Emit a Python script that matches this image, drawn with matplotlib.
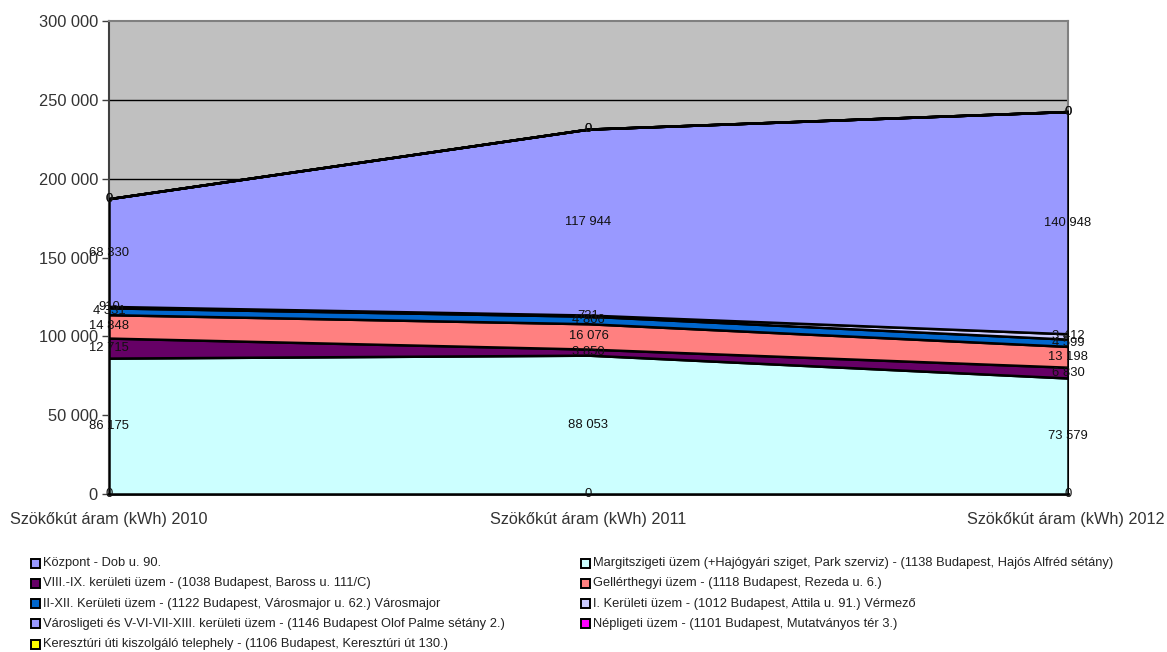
import matplotlib
matplotlib.use("Agg")
import matplotlib.pyplot as plt
import matplotlib.transforms as mtransforms
from matplotlib.patches import Rectangle
import numpy as np

plt.rcParams['font.family'] = ['Liberation Sans', 'DejaVu Sans']

categories = ["Szökőkút áram (kWh) 2010", "Szökőkút áram (kWh) 2011", "Szökőkút áram (kWh) 2012"]

# stack order bottom -> top
stack_names = [
    "Keresztúri úti kiszolgáló telephely - (1106 Budapest, Keresztúri út 130.)",
    "Margitszigeti üzem (+Hajógyári sziget, Park szerviz) - (1138 Budapest, Hajós Alfréd sétány)",
    "VIII.-IX. kerületi üzem - (1038 Budapest, Baross u. 111/C)",
    "Gellérthegyi üzem - (1118 Budapest, Rezeda u. 6.)",
    "II-XII. Kerületi üzem - (1122 Budapest, Városmajor u. 62.) Városmajor",
    "I. Kerületi üzem - (1012 Budapest, Attila u. 91.) Vérmező",
    "Központ - Dob u. 90.",
    "Városligeti és V-VI-VII-XIII. kerületi üzem - (1146 Budapest Olof Palme sétány 2.)",
    "Népligeti üzem - (1101 Budapest, Mutatványos tér 3.)",
]
keresztur = [0, 0, 0]
margit = [86175, 88053, 73579]
viii_ix = [12715, 3850, 6830]
gellert = [14848, 16076, 13198]
ii_xii = [4331, 4806, 4599]
i_ker = [910, 721, 3412]
kozpont = [68330, 117944, 140948]
varosliget = [0, 0, 0]
nepliget = [0, 0, 0]
stack_values = [keresztur, margit, viii_ix, gellert, ii_xii, i_ker, kozpont, varosliget, nepliget]
stack_colors = ["#FFFF00", "#CCFFFF", "#660066", "#FF8080", "#0066CC", "#CCCCFF", "#9999FF", "#9999FF", "#FF00FF"]

legend_order = [
    "Központ - Dob u. 90.",
    "Margitszigeti üzem (+Hajógyári sziget, Park szerviz) - (1138 Budapest, Hajós Alfréd sétány)",
    "VIII.-IX. kerületi üzem - (1038 Budapest, Baross u. 111/C)",
    "Gellérthegyi üzem - (1118 Budapest, Rezeda u. 6.)",
    "II-XII. Kerületi üzem - (1122 Budapest, Városmajor u. 62.) Városmajor",
    "I. Kerületi üzem - (1012 Budapest, Attila u. 91.) Vérmező",
    "Városligeti és V-VI-VII-XIII. kerületi üzem - (1146 Budapest Olof Palme sétány 2.)",
    "Népligeti üzem - (1101 Budapest, Mutatványos tér 3.)",
    "Keresztúri úti kiszolgáló telephely - (1106 Budapest, Keresztúri út 130.)",
]

yticks = [0, 50000, 100000, 150000, 200000, 250000, 300000]


def fmt(v):
    return f"{int(v):,}".replace(",", " ")


W, H = 1167, 652
fig = plt.figure(figsize=(W / 100, H / 100), dpi=100)
ax = fig.add_axes([109 / W, 1 - 494 / H, (1068 - 109) / W, (494 - 21) / H])
ax.set_facecolor("#C0C0C0")

x = np.arange(len(categories))
ax.stackplot(x, *stack_values, colors=stack_colors, edgecolor="black", linewidth=1.8, zorder=3)

ax.set_xlim(0, 2)
ax.set_ylim(0, 300000)
ax.set_yticks(yticks)
ax.set_yticklabels([fmt(v) for v in yticks], fontsize=11.8, color="#333333")
for yv in yticks[1:-1]:
    ax.axhline(yv, color="black", linewidth=1.0, zorder=1)
ax.set_xticks(x)
ax.set_xticklabels(categories, fontsize=11.7, color="#333333")
ax.tick_params(axis="x", length=0, pad=13)
ax.tick_params(axis="y", length=5, width=1, color="#404040", pad=3)
labs = ax.get_xticklabels()
labs[0].set_horizontalalignment("left")
labs[-1].set_horizontalalignment("right")
labs[0].set_transform(labs[0].get_transform() + mtransforms.ScaledTranslation(-99 / 100, 0, fig.dpi_scale_trans))
labs[-1].set_transform(labs[-1].get_transform() + mtransforms.ScaledTranslation(97 / 100, 0, fig.dpi_scale_trans))

for side in ["top", "right"]:
    ax.spines[side].set_color("#808080")
    ax.spines[side].set_linewidth(1.5)
ax.spines["left"].set_color("#404040")
ax.spines["left"].set_linewidth(1.5)
ax.spines["bottom"].set_color("black")
ax.spines["bottom"].set_linewidth(2)

# data labels
cum = np.zeros(len(categories))
for vals in stack_values:
    v = np.array(vals, dtype=float)
    for i in range(len(categories)):
        ax.text(x[i], cum[i] + v[i] / 2, fmt(v[i]), ha="center", va="center",
                fontsize=9.4, color="#111111", zorder=5, clip_on=False)
    cum += v

# legend (manual, two columns, row-major)
for k, name in enumerate(legend_order):
    col, row = k % 2, k // 2
    xp = 31 if col == 0 else 581
    yp = 563 + row * 20.3
    color = stack_colors[stack_names.index(name)]
    fig.patches.append(Rectangle((xp / W, 1 - (yp + 4.5) / H), 9 / W, 9 / H,
                                 transform=fig.transFigure, facecolor=color,
                                 edgecolor="black", linewidth=1.4))
    fig.text((xp + 12) / W, 1 - yp / H, name, fontsize=9.3, va="center", ha="left", color="#222222")

fig.savefig("out.png", dpi=100)
